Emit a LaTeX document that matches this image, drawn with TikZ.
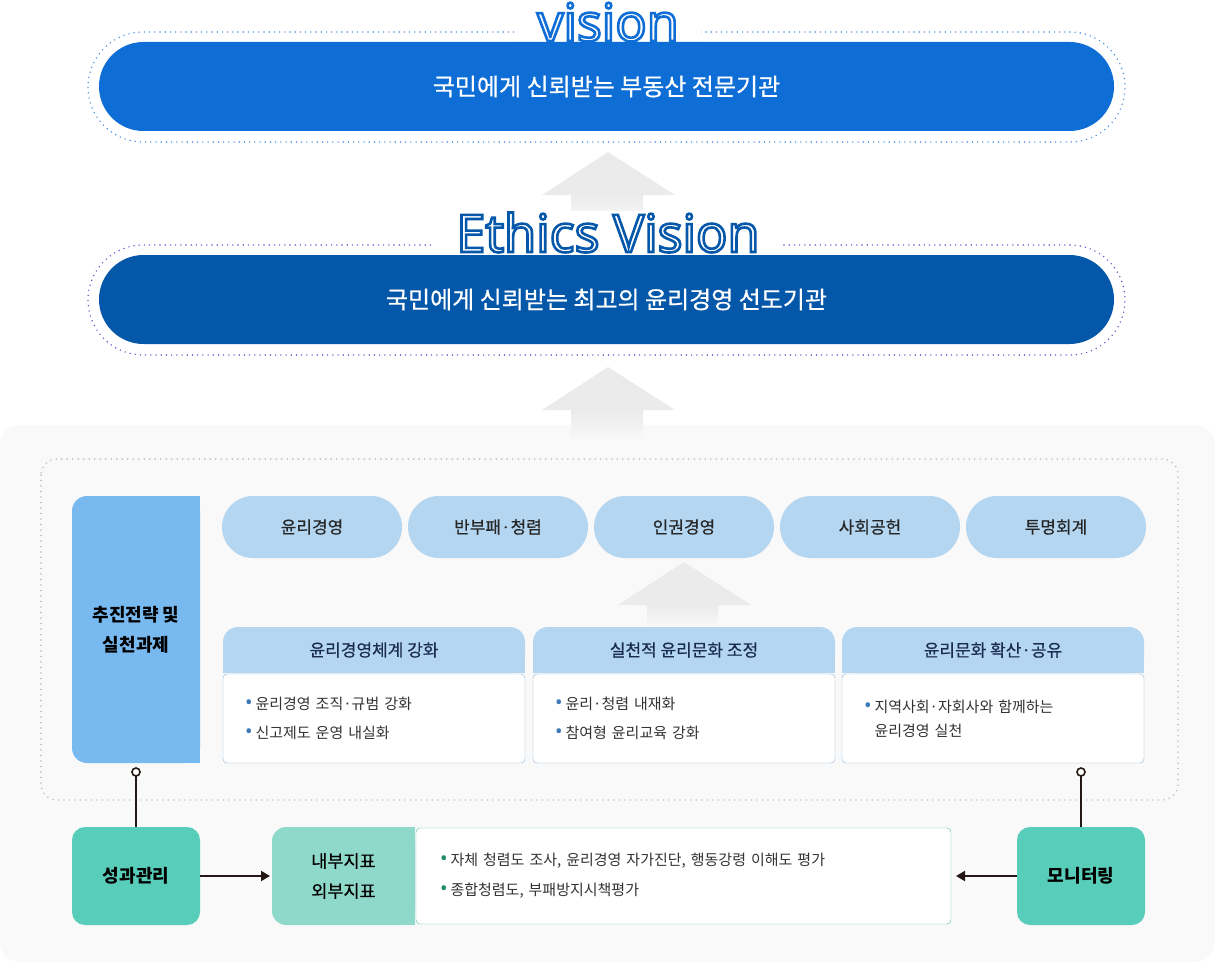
\documentclass[tikz,border=0pt]{standalone}
\usepackage{fontspec}
\setmainfont{Noto Sans CJK KR}
\newfontfamily\mediumfont{Noto Sans CJK KR}[FakeBold=0.5]
\newfontfamily\titlefont{Noto Sans}
\usetikzlibrary{positioning,arrows.meta}

\definecolor{visionblue}{HTML}{0E6ED6}
\definecolor{ethicsblue}{HTML}{0457A9}
\definecolor{visiondots}{HTML}{4B8FDF}
\definecolor{ethicsdots}{HTML}{5B5FC7}
\definecolor{panelgray}{HTML}{F9F9F9}
\definecolor{framedots}{HTML}{A9BCC4}
\definecolor{arrowgray}{HTML}{EBEBEB}
\definecolor{taskblue}{HTML}{B4D6F1}
\definecolor{stratblue}{HTML}{78B9F0}
\definecolor{headnavy}{HTML}{1B2C52}
\definecolor{bodyline}{HTML}{8DB2D5}
\definecolor{bulletblue}{HTML}{3C7AB6}
\definecolor{mint}{HTML}{58CDB9}
\definecolor{palemint}{HTML}{8FD9CB}
\definecolor{mintline}{HTML}{63BAA7}
\definecolor{bulletgreen}{HTML}{1F8C6C}
\definecolor{inkdark}{HTML}{231815}

\newcommand{\dotitem}[1]{{\titlefont\fontsize{20}{20}\selectfont\color{#1}\textbullet}\hspace{3pt}}
\newcommand{\hollow}[2]{\special{pdf:literal direct 2 Tr 2.6 w #1 RG}#2\special{pdf:literal direct 0 Tr}}

\begin{document}
\begin{tikzpicture}[
  x=1pt, y=-1pt,
  node distance=6pt and 6pt,
  every node/.style={outer sep=0pt},
  ring/.style={draw=#1, rounded corners=55pt, minimum width=1037pt, minimum height=110pt, line width=1.6pt, line cap=round, dash pattern=on 0pt off 5.2pt},
  headline/.style={fill=white, inner xsep=22pt, inner ysep=1pt, anchor=base, text=white, font=\titlefont\bfseries\fontsize{52}{54}\selectfont},
  visionpill/.style={fill=#1, rounded corners=44.5pt, minimum width=1015pt, minimum height=89pt, text=white, font=\mediumfont\fontsize{24}{28}\selectfont},
  task/.style={fill=taskblue, rounded corners=31pt, minimum width=180pt, minimum height=62pt, text=black!85, font=\mediumfont\fontsize{17}{20}\selectfont},
  colhead/.style={fill=taskblue, rounded corners=15pt, minimum width=302pt, minimum height=46pt, text=headnavy, font=\mediumfont\fontsize{17}{20}\selectfont},
  colbody/.style={draw=bodyline, fill=white, rounded corners=4pt, minimum width=302pt, minimum height=89pt, text width=258pt, inner xsep=22pt, align=left, text=black!80, font=\fontsize{15}{24}\selectfont},
  sidebox/.style={fill=#1, rounded corners=13pt, minimum width=128pt, minimum height=98pt, align=center, text=black, font=\bfseries\fontsize{18}{30}\selectfont},
  evalbox/.style={draw=mintline, fill=white, rounded corners=4pt, minimum width=535pt, minimum height=96pt, text width=487pt, inner xsep=24pt, align=left, text=black!80, font=\fontsize{15}{24}\selectfont},
  pin/.style={circle, draw=inkdark, fill=white, line width=1.6pt, inner sep=0pt, minimum size=8pt},
  link/.style={draw=inkdark, line width=2pt},
  arrow/.style={link, -{Triangle[length=9pt, width=10pt]}, shorten >=2pt}
]
\useasboundingbox (0,0) rectangle (1215,963);

\node[ring=visiondots] (visionring) at (606.5,87) {};
\node[headline] (visiontitle) at (608,41) {\hollow{0.055 0.431 0.839}{vision}};
\node[visionpill=visionblue] (vision) at (606.5,86.5) {국민에게 신뢰받는 부동산 전문기관};

\node[ring=ethicsdots] (ethicsring) at (606.5,300) {};
\fill[arrowgray] (608,152) -- (675,195) -- (542,195) -- cycle;
\shade[top color=arrowgray, bottom color=white] (571,195) rectangle (643,232);
\node[headline] (ethicstitle) at (608,252) {\hollow{0.016 0.341 0.663}{Ethics Vision}};
\node[visionpill=ethicsblue] (ethics) at (606.5,299.5) {국민에게 신뢰받는 최고의 윤리경영 선도기관};

\fill[panelgray, rounded corners=20pt] (0,425) rectangle (1215,962);
\fill[arrowgray] (608,367) -- (675,410) -- (542,410) -- cycle;
\shade[top color=arrowgray, bottom color=panelgray] (571,410) rectangle (643,442);
\draw[framedots, line width=1.6pt, line cap=round, dash pattern=on 0pt off 5.5pt, rounded corners=16pt] (41,459) rectangle (1178,800);

\node[sidebox=stratblue, minimum height=267pt, rounded corners=15pt] (strategy) at (136,629.5) {추진전략 및\\실천과제};
\fill[stratblue] (strategy.north east) rectangle ([xshift=-15pt]strategy.south east);

\node[task] (ethicsmgmt) at (312,527) {윤리경영};
\node[task, right=of ethicsmgmt] (anticorrupt) {반부패·청렴};
\node[task, right=of anticorrupt] (humanrights) {인권경영};
\node[task, right=of humanrights] (social) {사회공헌};
\node[task, right=of social] (accounting) {투명회계};

\fill[arrowgray] (684,562) -- (751,605) -- (618,605) -- cycle;
\shade[top color=arrowgray, bottom color=panelgray] (647,605) rectangle (718,628);

\node[colhead] (systemhead) at (374,650) {윤리경영체계 강화};
\node[colhead, right=8pt of systemhead] (culturehead) {실천적 윤리문화 조정};
\node[colhead, right=7pt of culturehead] (sharehead) {윤리문화 확산·공유};
\foreach \h in {systemhead, culturehead, sharehead}
  \fill[taskblue] (\h.south west) rectangle ([yshift=15pt]\h.south east);

\node[colbody, below=1pt of systemhead] (systembody) {\dotitem{bulletblue}윤리경영 조직·규범 강화\\[5pt]\dotitem{bulletblue}신고제도 운영 내실화};
\node[colbody, below=1pt of culturehead] (culturebody) {\dotitem{bulletblue}윤리·청렴 내재화\\[5pt]\dotitem{bulletblue}참여형 윤리교육 강화};
\node[colbody, below=1pt of sharehead] (sharebody) {\dotitem{bulletblue}지역사회·자회사와 함께하는\\\hphantom{\dotitem{bulletblue}}윤리경영 실천};

\node[sidebox=mint] (performance) at (136,876) {성과관리};
\node[sidebox=palemint, minimum width=143pt, rounded corners=14pt, font=\mediumfont\fontsize{17.5}{30}\selectfont] (indicators) at (343.5,876) {내부지표\\외부지표};
\fill[palemint] (indicators.north east) rectangle ([xshift=-14pt]indicators.south east);
\node[evalbox, right=1pt of indicators] (evaluation) {\dotitem{bulletgreen}자체 청렴도 조사, 윤리경영 자가진단, 행동강령 이해도 평가\\[6pt]\dotitem{bulletgreen}종합청렴도, 부패방지시책평가};
\node[sidebox=mint] (monitoring) at (1081,876) {모니터링};

\node[pin] (strategypin) at (136,772) {};
\node[pin] (monitorpin) at (1081,772) {};
\draw[link] (strategypin) -- (performance);
\draw[link] (monitorpin) -- (monitoring);
\draw[arrow] (performance) -- (indicators);
\draw[arrow, shorten >=5pt] (monitoring) -- (evaluation);
\end{tikzpicture}
\end{document}
